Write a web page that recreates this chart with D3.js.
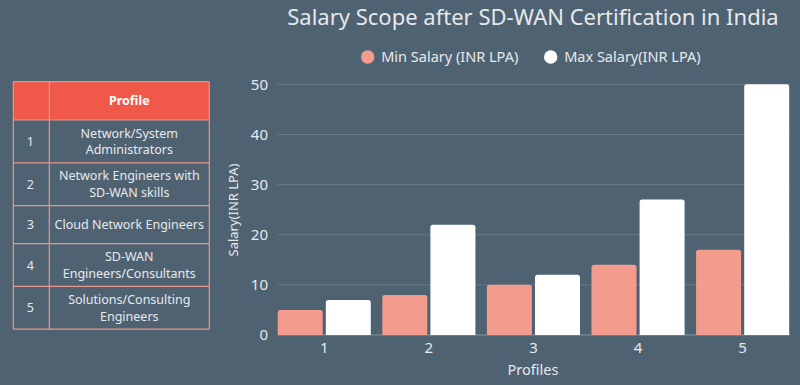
<!DOCTYPE html>
<html>
<head>
<meta charset="utf-8">
<script src="https://cdnjs.cloudflare.com/ajax/libs/d3/7.8.5/d3.min.js"></script>
<style>
  html, body { margin: 0; padding: 0; background: #4f6272; }
  svg { display: block; font-family: "Noto Sans", "Open Sans", sans-serif; }
</style>
</head>
<body>
<svg id="svg1" width="800" height="385"></svg>
<script>
// chart data
var profiles = ['1', '2', '3', '4', '5'];
var minSalary = [5, 8, 10, 14, 17];
var maxSalary = [7, 22, 12, 27, 50];
var yTicks = [0, 10, 20, 30, 40, 50];
var seriesNames = ['Min Salary (INR LPA)', 'Max Salary(INR LPA)'];
var profileNames = [
    ['Network/System', 'Administrators'],
    ['Network Engineers with', 'SD-WAN skills'],
    ['Cloud Network Engineers'],
    ['SD-WAN', 'Engineers/Consultants'],
    ['Solutions/Consulting', 'Engineers']
];

var width = 800, height = 385;
var colMin = '#f39c8d', colMax = '#ffffff';
var textCol = '#e6e9ec';

var svg = d3.select('#svg1');

// title
svg.append('text')
    .attr('x', 533).attr('y', 25)
    .attr('text-anchor', 'middle')
    .attr('fill', textCol)
    .attr('font-size', 22)
    .text('Salary Scope after SD-WAN Certification in India');

// legend
var legend = svg.append('g');
var legendX = [367.7, 550.7];
seriesNames.forEach(function(name, i){
    legend.append('circle')
        .attr('cx', legendX[i]).attr('cy', 57).attr('r', 6.7)
        .attr('fill', i == 0 ? colMin : colMax);
    legend.append('text')
        .attr('x', legendX[i] + 13.5).attr('y', 62)
        .attr('fill', textCol)
        .attr('font-size', 14.5)
        .text(name);
});

// plot
var x0 = d3.scaleBand()
    .domain(profiles)
    .range([277.7, 789.2])
    .paddingInner(0.11)
    .paddingOuter(0)
    .align(0);

var x1 = d3.scaleBand()
    .domain(['min', 'max'])
    .range([0, x0.bandwidth()])
    .paddingInner(0.065);

var y = d3.scaleLinear()
    .domain([0, 50])
    .range([335, 84.3]);

// grid lines
svg.append('g')
    .selectAll('line')
    .data(yTicks)
    .enter()
    .append('line')
    .attr('x1', 277.7).attr('x2', 790)
    .attr('y1', function(d){ return y(d); })
    .attr('y2', function(d){ return y(d); })
    .attr('stroke', function(d){ return d == 0 ? '#8494a1' : '#687a88'; })
    .attr('stroke-width', 1);

var yAxis = svg.append('g')
    .attr('transform', 'translate(268,0)')
    .call(d3.axisLeft(y).tickValues(yTicks).tickSize(0).tickPadding(0));
yAxis.select('.domain').remove();
yAxis.selectAll('text')
    .attr('fill', textCol)
    .attr('font-size', 15)
    .attr('font-family', '"Noto Sans", sans-serif');

var xAxis = svg.append('g')
    .attr('transform', 'translate(0,335)')
    .call(d3.axisBottom(x0).tickSize(0).tickPadding(7));
xAxis.select('.domain').remove();
xAxis.selectAll('text')
    .attr('fill', textCol)
    .attr('font-size', 15)
    .attr('font-family', '"Noto Sans", sans-serif');

// axis titles
svg.append('text')
    .attr('x', 533).attr('y', 375)
    .attr('text-anchor', 'middle')
    .attr('fill', textCol)
    .attr('font-size', 14.5)
    .text('Profiles');

svg.append('text')
    .attr('transform', 'translate(238,210) rotate(-90)')
    .attr('text-anchor', 'middle')
    .attr('fill', textCol)
    .attr('font-size', 13)
    .text('Salary(INR LPA)');

// bars with rounded tops
function topRounded(x, yTop, w, h, r) {
    r = Math.min(r, h);
    return 'M' + x + ',' + (yTop + h) +
        'V' + (yTop + r) +
        'Q' + x + ',' + yTop + ' ' + (x + r) + ',' + yTop +
        'H' + (x + w - r) +
        'Q' + (x + w) + ',' + yTop + ' ' + (x + w) + ',' + (yTop + r) +
        'V' + (yTop + h) + 'Z';
}

var barData = profiles.map(function(p, i){
    return {profile: p, values: [
        {key: 'min', value: minSalary[i]},
        {key: 'max', value: maxSalary[i]}
    ]};
});

svg.append('g')
    .selectAll('g')
    .data(barData)
    .enter()
    .append('g')
    .attr('transform', function(d){ return 'translate(' + x0(d.profile) + ',0)'; })
    .selectAll('path')
    .data(function(d){ return d.values; })
    .enter()
    .append('path')
    .attr('d', function(d){
        return topRounded(x1(d.key), y(d.value), x1.bandwidth(), y(0) - y(d.value), 2.5);
    })
    .attr('fill', function(d){ return d.key == 'min' ? colMin : colMax; });

// table
var tableLeft = 13.3, tableRight = 209.3, colDiv = 49.3;
var tableTop = 81.7, headerH = 38.3;
var lineH = 16.5;
var rowHeights = profileNames.map(function(lines){ return lines.length == 1 ? 38 : 42.8; });
var rowY = [];
var acc = tableTop + headerH;
rowHeights.forEach(function(h){ rowY.push(acc); acc += h; });
var tableBottom = acc;
var borderCol = '#e7968b';

var table = svg.append('g');

table.append('rect')
    .attr('x', tableLeft).attr('y', tableTop)
    .attr('width', tableRight - tableLeft).attr('height', headerH)
    .attr('fill', '#f0584a');

table.append('text')
    .attr('x', (colDiv + tableRight) / 2).attr('y', tableTop + headerH / 2 + 4.5)
    .attr('text-anchor', 'middle')
    .attr('fill', '#ffffff')
    .attr('font-weight', 'bold')
    .attr('font-size', 12.5)
    .text('Profile');

profileNames.forEach(function(lines, i){
    var cy = rowY[i] + rowHeights[i] / 2;
    table.append('text')
        .attr('x', (tableLeft + colDiv) / 2 - 1).attr('y', cy + 4.5)
        .attr('text-anchor', 'middle')
        .attr('fill', textCol)
        .attr('font-size', 12.5)
        .text(profiles[i]);
    lines.forEach(function(line, j){
        table.append('text')
            .attr('x', (colDiv + tableRight) / 2)
            .attr('y', cy + 4.5 + (j - (lines.length - 1) / 2) * lineH)
            .attr('text-anchor', 'middle')
            .attr('fill', textCol)
            .attr('font-size', 12.5)
            .text(line);
    });
});

// table borders
var hLines = [tableTop, tableTop + headerH].concat(rowY.slice(1)).concat([tableBottom]);
table.selectAll('line.h')
    .data(hLines)
    .enter()
    .append('line')
    .attr('class', 'h')
    .attr('x1', tableLeft).attr('x2', tableRight)
    .attr('y1', function(d){ return d; }).attr('y2', function(d){ return d; })
    .attr('stroke', borderCol).attr('stroke-width', 1.2);

table.selectAll('line.v')
    .data([tableLeft, colDiv, tableRight])
    .enter()
    .append('line')
    .attr('class', 'v')
    .attr('x1', function(d){ return d; }).attr('x2', function(d){ return d; })
    .attr('y1', tableTop).attr('y2', tableBottom)
    .attr('stroke', borderCol).attr('stroke-width', 1.2);
</script>
</body>
</html>
